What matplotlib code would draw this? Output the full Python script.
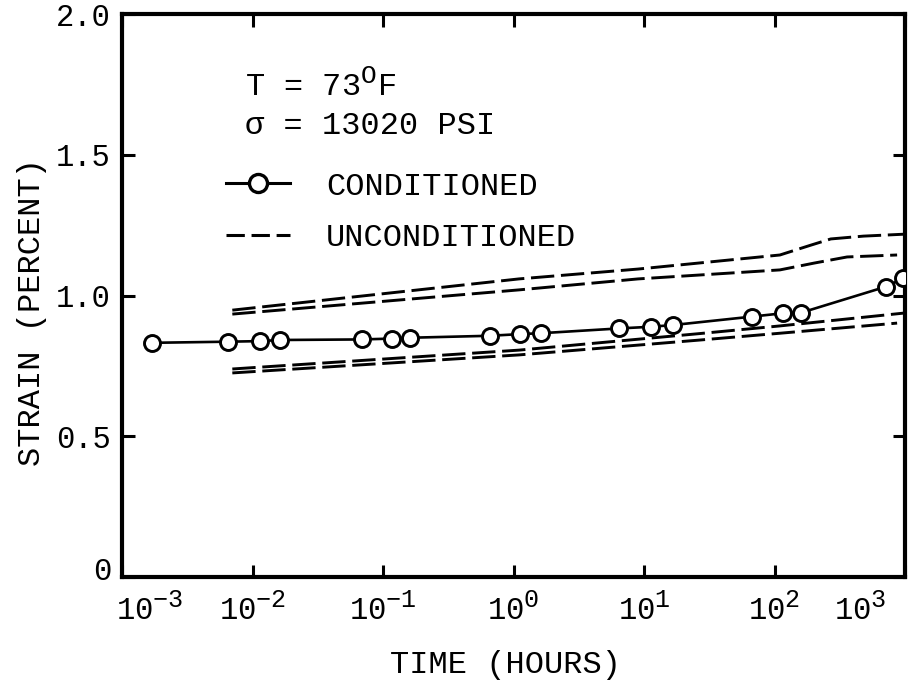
import matplotlib
matplotlib.use("Agg")
import matplotlib.pyplot as plt
import matplotlib._mathtext as _mathtext
from matplotlib.lines import Line2D
from matplotlib.ticker import FixedLocator, NullLocator
from matplotlib.transforms import ScaledTranslation

# Larger exponents in the power-of-ten tick labels
_mathtext.SHRINK_FACTOR = 0.82

# Creep data, strain (percent) vs time (hours)
cond_time = [0.0017, 0.0065, 0.0114, 0.0163, 0.069, 0.117, 0.161, 0.66, 1.13, 1.61,
             6.4, 11.3, 16.6, 67, 116, 160, 710, 970]
cond_strain = [0.832, 0.836, 0.838, 0.842, 0.844, 0.847, 0.850, 0.857, 0.863, 0.866,
               0.883, 0.889, 0.895, 0.925, 0.937, 0.939, 1.031, 1.061]

uncond_a_time = [0.007, 1.1, 9, 110, 190, 270, 480, 1000]
uncond_a_strain = [0.948, 1.059, 1.094, 1.144, 1.179, 1.201, 1.211, 1.218]
uncond_b_time = [0.007, 1.1, 9, 110, 200, 360, 870]
uncond_b_strain = [0.934, 1.020, 1.059, 1.091, 1.115, 1.137, 1.144]
uncond_c_time = [0.007, 1.1, 27, 110, 1000]
uncond_c_strain = [0.739, 0.806, 0.865, 0.892, 0.938]
uncond_d_time = [0.007, 1.1, 27, 110, 870]
uncond_d_strain = [0.725, 0.789, 0.842, 0.866, 0.902]

x_ticks = [1e-3, 1e-2, 1e-1, 1e0, 1e1, 1e2, 1e3]
x_tick_labels = [r"$\mathregular{10^{-3}}$", r"$\mathregular{10^{-2}}$", r"$\mathregular{10^{-1}}$",
                 r"$\mathregular{10^{0}}$", r"$\mathregular{10^{1}}$", r"$\mathregular{10^{2}}$",
                 r"$\mathregular{10^{3}}$"]
y_ticks = [0, 0.5, 1.0, 1.5, 2.0]
y_tick_labels = ["0", "0.5", "1.0", "1.5", "2.0"]

plt.rcParams["font.family"] = ["Liberation Mono", "DejaVu Sans Mono"]
plt.rcParams["mathtext.fontset"] = "custom"
plt.rcParams["mathtext.rm"] = "Liberation Mono"

fig = plt.figure(figsize=(9.08, 6.81), dpi=100)
ax = fig.add_axes([0.1344, 0.1527, 0.8623, 0.8267])

dash = (8, 2.3)
for t, s in [(uncond_a_time, uncond_a_strain), (uncond_b_time, uncond_b_strain),
             (uncond_c_time, uncond_c_strain), (uncond_d_time, uncond_d_strain)]:
    ax.plot(t, s, color="black", lw=2.1, dashes=dash, solid_capstyle="butt")

ax.plot(cond_time, cond_strain, color="black", lw=1.9, marker="o", ms=11.5,
        mfc="white", mec="black", mew=2.1, zorder=3)

ax.set_xscale("log")
ax.set_xlim(1e-3, 1e3)
ax.set_ylim(0, 2.0)

ax.xaxis.set_major_locator(FixedLocator(x_ticks))
ax.xaxis.set_minor_locator(NullLocator())
ax.set_xticklabels(x_tick_labels)
ax.set_yticks(y_ticks)
ax.set_yticklabels(y_tick_labels)

ax.tick_params(axis="both", direction="in", length=9, width=2.2,
               top=True, right=True, labelsize=22)
ax.tick_params(axis="x", pad=12)
ax.tick_params(axis="y", pad=8)
for sp in ax.spines.values():
    sp.set_linewidth(3)

xl = ax.get_xticklabels()
xl[0].set_transform(xl[0].get_transform() + ScaledTranslation(0.28, 0, fig.dpi_scale_trans))
xl[-1].set_transform(xl[-1].get_transform() + ScaledTranslation(-0.45, 0, fig.dpi_scale_trans))
yl = ax.get_yticklabels()
yl[0].set_transform(yl[0].get_transform() + ScaledTranslation(0, 0.09, fig.dpi_scale_trans))

ax.set_xlabel("TIME (HOURS)", fontsize=23)
ax.set_ylabel("STRAIN (PERCENT)", fontsize=23)
ax.yaxis.set_label_coords(-0.096, 0.47)
ax.xaxis.set_label_coords(0.49, -0.13)

ax.text(0.157, 0.872, r"T = 73$^{\mathregular{O}}$F", transform=ax.transAxes,
        fontsize=23, va="center", ha="left")
ax.text(0.157, 0.801, "\u03c3 = 13020 PSI", transform=ax.transAxes,
        fontsize=23, va="center", ha="left")

handles = [Line2D([], [], color="black", lw=2.2, marker="o", ms=13, mfc="white",
                  mec="black", mew=2.4),
           Line2D([], [], color="black", lw=2.2, dashes=(6, 2.2))]
ax.legend(handles, ["CONDITIONED", "UNCONDITIONED"], loc="upper left",
          bbox_to_anchor=(0.133, 0.72), frameon=False, fontsize=23,
          handlelength=2.0, handletextpad=1.12, labelspacing=0.68, numpoints=1,
          borderaxespad=0, borderpad=0)

fig.savefig("out.png", dpi=100)
